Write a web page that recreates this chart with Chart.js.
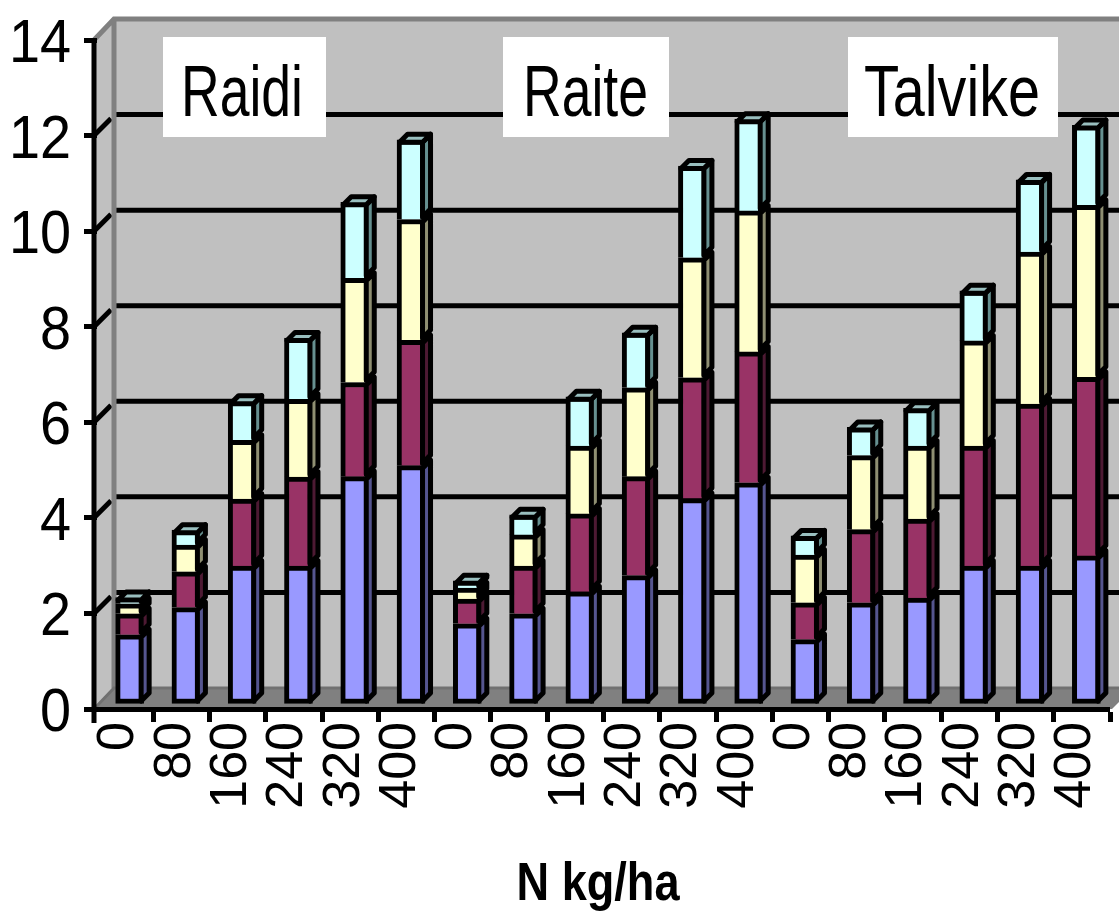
<!DOCTYPE html>
<html>
<head>
<meta charset="utf-8">
<title>N kg/ha</title>
<script src="https://cdn.jsdelivr.net/npm/chart.js@4"></script>
<style>
html, body { margin: 0; padding: 0; background: #fff; }
canvas { display: block; }
</style>
</head>
<body>
<canvas id="chart" width="1119" height="913"></canvas>
<script>
// Data
const doses = ['0', '80', '160', '240', '320', '400'];
const categories = [...doses, ...doses, ...doses];
const series1 = [1.49, 2.06, 2.93, 2.93, 4.80, 5.03, 1.72, 1.93, 2.39, 2.73, 4.34, 4.67, 1.39, 2.16, 2.26, 2.93, 2.93, 3.14];
const series2 = [0.44, 0.75, 1.40, 1.86, 1.97, 2.62, 0.52, 1.00, 1.63, 2.07, 2.53, 2.74, 0.77, 1.53, 1.65, 2.51, 3.39, 3.74];
const series3 = [0.21, 0.56, 1.23, 1.63, 2.18, 2.53, 0.23, 0.65, 1.42, 1.86, 2.51, 2.95, 1.00, 1.55, 1.53, 2.20, 3.18, 3.60];
const series4 = [0.13, 0.31, 0.82, 1.28, 1.59, 1.67, 0.15, 0.42, 1.03, 1.15, 1.92, 1.92, 0.40, 0.59, 0.79, 1.05, 1.51, 1.67];
const groupNames = ['Raidi', 'Raite', 'Talvike'];
const axisTitle = 'N kg/ha';

const colors = ['#9999ff', '#993366', '#ffffcc', '#ccffff'];
const sideColors = ['#55558f', '#4d1a33', '#8f8f72', '#669090'];
const topColors = ['#7373bf', '#73264d', '#bfbf99', '#99bfbf'];

// group label boxes: x, width, text x, text width
const boxes = [
    { x: 163, w: 163, tx: 181, tw: 122 },
    { x: 503, w: 166, tx: 523, tw: 125 },
    { x: 848, w: 210, tx: 864, tw: 176 }
];

const WALL = 21;      // depth of the chart box
const DEPTH = 8;      // depth of one bar
const SHIFT_X = 4.5;
const SHIFT_Y = -3;
const AXIS_X = 94;

// walls and floor, behind everything
const walls = {
    id: 'walls',
    beforeDraw(chart) {
        const c = chart.ctx;
        const y = chart.scales.y;
        const top = y.getPixelForValue(14);
        const bottom = y.getPixelForValue(0);
        const wx = AXIS_X + WALL;

        c.save();
        c.fillStyle = '#c0c0c0';
        c.fillRect(wx, top - WALL, 1119 - wx, bottom - top);
        c.beginPath();
        c.moveTo(AXIS_X, bottom);
        c.lineTo(wx, bottom - WALL);
        c.lineTo(wx, top - WALL);
        c.lineTo(AXIS_X, top);
        c.closePath();
        c.fill();

        c.fillStyle = '#808080';
        c.beginPath();
        c.moveTo(AXIS_X, bottom);
        c.lineTo(wx, bottom - WALL);
        c.lineTo(1133, bottom - WALL);
        c.lineTo(1112, bottom);
        c.closePath();
        c.fill();

        // grid lines on the back wall and the side wall
        c.strokeStyle = '#000';
        c.lineWidth = 5;
        y.ticks.forEach(t => {
            if (t.value === 0 || t.value === 14) return;
            const py = y.getPixelForValue(t.value);
            c.beginPath();
            c.moveTo(wx + 1, py - WALL);
            c.lineTo(1119, py - WALL);
            c.stroke();
            c.beginPath();
            c.moveTo(AXIS_X, py);
            c.lineTo(AXIS_X + 17, py - 17);
            c.stroke();
        });

        // box edges
        c.strokeStyle = '#808080';
        c.lineWidth = 5;
        c.beginPath();
        c.moveTo(AXIS_X, top);
        c.lineTo(wx - 1, top - WALL);
        c.lineTo(1119, top - WALL);
        c.moveTo(wx - 1, top - WALL);
        c.lineTo(wx - 1, bottom - WALL);
        c.stroke();
        c.strokeStyle = '#707070';
        c.lineWidth = 3;
        c.beginPath();
        c.moveTo(AXIS_X, bottom);
        c.lineTo(wx - 1, bottom - WALL);
        c.lineTo(1133, bottom - WALL);
        c.stroke();
        c.restore();
    }
};

// shifts the bars into the box and adds their sides and tops
const bars3d = {
    id: 'bars3d',
    beforeDatasetsDraw(chart) {
        chart.ctx.save();
        chart.ctx.translate(SHIFT_X, SHIFT_Y);
    },
    afterDatasetsDraw(chart) {
        const c = chart.ctx;
        c.strokeStyle = '#000';
        c.lineWidth = 5;
        c.lineJoin = 'round';
        chart.data.datasets.forEach((ds, i) => {
            chart.getDatasetMeta(i).data.forEach(bar => {
                const p = bar.getProps(['x', 'y', 'base', 'width']);
                const l = p.x - p.width / 2 + 2.5;
                const r = p.x + p.width / 2 - 2.5;
                const t = p.y + 2.5;
                const b = p.base - 2.5;
                c.fillStyle = sideColors[i];
                c.beginPath();
                c.moveTo(r, t);
                c.lineTo(r + DEPTH, t - DEPTH);
                c.lineTo(r + DEPTH, b - DEPTH);
                c.lineTo(r, b);
                c.closePath();
                c.fill();
                c.stroke();
                if (i === chart.data.datasets.length - 1) {
                    c.fillStyle = topColors[i];
                    c.beginPath();
                    c.moveTo(l, t);
                    c.lineTo(l + DEPTH, t - DEPTH);
                    c.lineTo(r + DEPTH, t - DEPTH);
                    c.lineTo(r, t);
                    c.closePath();
                    c.fill();
                    c.stroke();
                }
            });
        });
        c.restore();
    }
};

// y axis line, condensed texts and the white group labels
const extras = {
    id: 'extras',
    afterDraw(chart) {
        const c = chart.ctx;
        const y = chart.scales.y;
        c.save();
        c.strokeStyle = '#000';
        c.lineWidth = 5;
        c.beginPath();
        c.moveTo(AXIS_X, y.getPixelForValue(14) - 2);
        c.lineTo(AXIS_X, y.getPixelForValue(0) + 14);
        c.stroke();

        c.fillStyle = '#000';
        c.font = '62px "Liberation Sans"';
        c.textAlign = 'right';
        c.textBaseline = 'alphabetic';
        y.ticks.forEach(t => {
            const label = String(t.value);
            c.fillText(label, 71, y.getPixelForValue(t.value) + 22, c.measureText(label).width * 0.9);
        });

        c.font = 'bold 54px "Liberation Sans"';
        c.textAlign = 'center';
        c.fillText(axisTitle, 598, 900, 163);

        c.font = '73px "Liberation Sans"';
        c.textAlign = 'left';
        groupNames.forEach((name, i) => {
            const b = boxes[i];
            c.fillStyle = '#fff';
            c.fillRect(b.x, 37, b.w, 100);
            c.fillStyle = '#000';
            c.fillText(name, b.tx, 116, b.tw);
        });
        c.restore();
    }
};

new Chart(document.getElementById('chart'), {
    type: 'bar',
    data: {
        labels: categories,
        datasets: [series1, series2, series3, series4].map((values, i) => ({
            data: values,
            backgroundColor: colors[i],
            borderColor: '#000',
            borderWidth: 5,
            borderSkipped: i === 0 ? false : 'start',
            barThickness: 28,
            clip: false
        }))
    },
    options: {
        responsive: false,
        animation: false,
        layout: { padding: { top: 40, right: 9, bottom: 0, left: 0 } },
        plugins: { legend: { display: false }, tooltip: { enabled: false } },
        scales: {
            x: {
                stacked: true,
                afterFit(scale) {
                    scale.height = 204;
                    scale.paddingLeft = 0;
                    scale.paddingRight = 0;
                },
                grid: {
                    drawOnChartArea: false,
                    color: '#000',
                    lineWidth: ctx => (ctx.index === 0 ? 0 : 5),
                    tickLength: 13
                },
                border: { display: true, color: '#000', width: 5 },
                ticks: {
                    autoSkip: false,
                    minRotation: 90,
                    maxRotation: 90,
                    color: '#000',
                    padding: 0,
                    labelOffset: -6,
                    font: { family: '"Liberation Sans"', size: 52 }
                }
            },
            y: {
                stacked: true,
                min: 0,
                max: 14,
                afterFit(scale) { scale.width = 97; },
                grid: {
                    drawOnChartArea: false,
                    color: '#000',
                    lineWidth: 5,
                    tickLength: 13
                },
                border: { display: false },
                ticks: { stepSize: 2, display: false }
            }
        }
    },
    plugins: [walls, bars3d, extras]
});
</script>
</body>
</html>
